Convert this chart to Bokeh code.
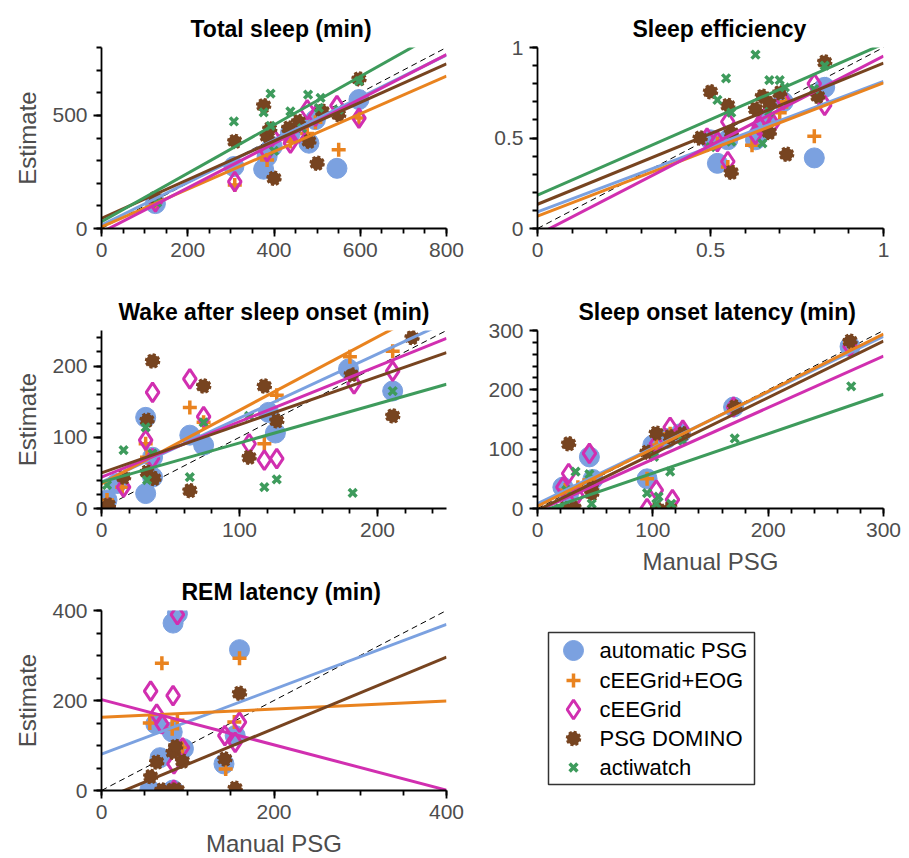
from bokeh.plotting import figure
from bokeh.layouts import row, column
from bokeh.models import Range1d, FixedTicker
from bokeh.embed import file_html
from bokeh.resources import INLINE
from bokeh.core.properties import value

FONT = "Liberation Sans"
SERIES = ["automatic PSG", "cEEGrid+EOG", "cEEGrid", "PSG DOMINO", "actiwatch"]
COLORS = ["#7ba1e0", "#e9831f", "#d12fb0", "#774420", "#3e9b5c"]

# ---------------- Total sleep (min) ----------------
TS_AUTO_X = [125, 307, 376, 384, 396, 438, 481, 496, 546, 597]
TS_AUTO_Y = [110, 274, 262, 318, 362, 422, 377, 481, 266, 570]
TS_EOG_X = [125, 309, 384, 438, 477, 496, 550, 597]
TS_EOG_Y = [118, 192, 303, 385, 420, 470, 348, 488]
TS_GRID_X = [125, 309, 384, 396, 438, 457, 477, 496, 546, 597]
TS_GRID_Y = [118, 207, 340, 407, 377, 421, 525, 496, 543, 488]
TS_DOM_X = [125, 309, 376, 384, 400, 390, 434, 457, 481, 500, 512, 550, 597]
TS_DOM_Y = [133, 385, 543, 407, 222, 440, 444, 473, 385, 288, 518, 503, 661]
TS_ACT_X = [129, 307, 376, 392, 392, 400, 438, 465, 479, 504, 508, 550, 597]
TS_ACT_Y = [114, 473, 513, 596, 454, 343, 518, 444, 592, 533, 577, 525, 651]
TS_FIT_B0 = [15, 7, -17, 45, 30]
TS_FIT_B1 = [0.94, 0.833, 0.982, 0.854, 1.07]

# ---------------- Sleep efficiency ----------------
SE_AUTO_X = [0.50, 0.52, 0.55, 0.63, 0.64, 0.66, 0.71, 0.80, 0.83]
SE_AUTO_Y = [0.49, 0.36, 0.49, 0.49, 0.52, 0.60, 0.70, 0.39, 0.78]
SE_EOG_X = [0.52, 0.55, 0.62, 0.67, 0.70, 0.72, 0.80]
SE_EOG_Y = [0.47, 0.34, 0.46, 0.58, 0.64, 0.70, 0.51]
SE_GRID_X = [0.49, 0.52, 0.55, 0.55, 0.63, 0.64, 0.66, 0.68, 0.71, 0.80, 0.83]
SE_GRID_Y = [0.50, 0.48, 0.37, 0.59, 0.52, 0.57, 0.62, 0.58, 0.71, 0.80, 0.68]
SE_DOM_X = [0.47, 0.50, 0.55, 0.56, 0.56, 0.63, 0.65, 0.67, 0.67, 0.70, 0.72, 0.81, 0.83]
SE_DOM_Y = [0.50, 0.755, 0.68, 0.53, 0.31, 0.66, 0.73, 0.53, 0.69, 0.75, 0.41, 0.73, 0.92]
SE_ACT_X = [0.50, 0.52, 0.545, 0.56, 0.56, 0.63, 0.65, 0.67, 0.67, 0.70, 0.715, 0.80, 0.83]
SE_ACT_Y = [0.45, 0.71, 0.83, 0.64, 0.48, 0.96, 0.47, 0.82, 0.645, 0.82, 0.78, 0.77, 0.90]
SE_FIT_B0 = [0.092, 0.068, -0.035, 0.134, 0.184]
SE_FIT_B1 = [0.72, 0.737, 0.988, 0.78, 0.836]

# ---------------- Wake after sleep onset (min) ----------------
WA_AUTO_X = [4, 11, 32, 32, 37, 37, 64, 74, 121, 126, 179, 211]
WA_AUTO_Y = [12, 35, 128, 21, 72, 44, 103, 89, 135, 106, 196, 165]
WA_EOG_X = [4, 15, 32, 33, 64, 74, 118, 127, 180, 211]
WA_EOG_Y = [12, 30, 91, 72, 142, 121, 91, 159, 213, 221]
WA_GRID_X = [5, 16, 32, 37, 37, 64, 74, 107, 118, 127, 183, 211]
WA_GRID_Y = [0, 30, 96, 163, 70, 182, 129, 91, 68, 70, 175, 193]
WA_DOM_X = [5, 16, 33, 33, 37, 38, 64, 74, 107, 118, 127, 181, 211, 225]
WA_DOM_Y = [5, 44, 124, 51, 207, 42, 25, 172, 72, 172, 123, 188, 130, 240]
WA_ACT_X = [4, 16, 32, 33, 37, 64, 74, 107, 118, 127, 182, 211]
WA_ACT_Y = [33, 82, 114, 40, 77, 44, 121, 130, 30, 41, 22, 165]
WA_FIT_B0 = [37, 35, 44, 50, 37]
WA_FIT_B1 = [0.9, 1.03, 0.78, 0.676, 0.55]

# ---------------- Sleep onset latency (min) ----------------
SO_AUTO_X = [22, 27, 45, 48, 95, 100, 112, 124, 170, 271]
SO_AUTO_Y = [36, 25, 87, 49, 50, 107, 118, 126, 171, 273]
SO_EOG_X = [24, 35, 45, 95, 103, 115, 170, 271]
SO_EOG_Y = [31, 36, 48, 50, 107, 126, 171, 279]
SO_GRID_X = [22, 27, 34, 45, 95, 103, 103, 115, 117, 126, 170, 271]
SO_GRID_Y = [36, 59, 22, 93, 0, 31, 109, 137, 15, 132, 171, 273]
SO_DOM_X = [24, 27, 32, 47, 47, 95, 103, 104, 115, 115, 126, 171, 271]
SO_DOM_Y = [0, 109, 0, 34, 25, 95, 127, 0, 121, 0, 126, 171, 282]
SO_ACT_X = [19, 25, 33, 45, 47, 95, 101, 103, 105, 115, 116, 126, 171, 272]
SO_ACT_Y = [0, 31, 62, 58, 8, 26, 87, 8, 20, 62, 8, 114, 118, 206]
SO_FIT_B0 = [8, 4, -4, -3, -7]
SO_FIT_B1 = [0.94, 0.967, 0.87, 0.95, 0.665]

# ---------------- REM latency (min) ----------------
RL_AUTO_X = [56, 63, 68, 82, 83, 83, 88, 95, 142, 155, 160]
RL_AUTO_Y = [1, 148, 73, 130, 372, 1, 393, 93, 59, 122, 313]
RL_EOG_X = [56, 70, 82, 88, 94, 144, 154, 160]
RL_EOG_Y = [150, 283, 137, 156, 96, 48, 152, 294]
RL_GRID_X = [57, 64, 70, 83, 84, 84, 88, 94, 143, 155, 160]
RL_GRID_Y = [221, 170, 148, 211, 59, 1, 391, 95, 122, 107, 152]
RL_DOM_X = [57, 64, 70, 82, 83, 86, 88, 94, 143, 155, 160]
RL_DOM_Y = [31, 63, 1, 1, 85, 98, 1, 65, 70, 5, 216]
RL_FIT_B0 = [81, 163, 202, -21]
RL_FIT_B1 = [0.72, 0.09, -0.503, 0.794]

TICK_COLOR = "#4d4d4d"


def draw_series(p, i, xs, ys):
    c = COLORS[i]
    if i == 0:
        p.scatter(xs, ys, marker="circle", size=20, fill_color=c, line_color=c)
    elif i == 1:
        p.scatter(xs, ys, marker="cross", size=14, line_color=c, line_width=3.5)
    elif i == 2:
        p.scatter(xs, ys, marker="diamond", size=19, fill_color=None, line_color=c, line_width=3)
    elif i == 3:
        p.scatter(xs, ys, marker="circle", size=13, fill_color=c, line_color=c,
                  line_width=2.5, line_dash="3 2")
    else:
        p.scatter(xs, ys, marker="x", size=11, line_color=c, line_width=3.5)


def make_panel(title, xmax, ymax, xmaj, xmin, ymaj, ymin, fw, fh, bl, br, bt, bb,
               toff, series, b0, b1, ylabel=None, xlabel=None, labels=None):
    p = figure(frame_width=fw, frame_height=fh, min_border_left=bl, min_border_right=br,
               min_border_top=bt, min_border_bottom=bb,
               x_range=Range1d(0, xmax), y_range=Range1d(0, ymax),
               output_backend="svg", toolbar_location=None, title=title)
    p.outline_line_color = None
    p.grid.visible = False
    p.title.text_font = FONT
    p.title.text_font_size = "23px"
    p.title.text_font_style = "bold"
    p.title.text_color = "black"
    p.title.align = "left"
    p.title.offset = toff
    p.title.standoff = 12
    p.xaxis.ticker = FixedTicker(ticks=xmaj, minor_ticks=xmin)
    p.yaxis.ticker = FixedTicker(ticks=ymaj, minor_ticks=ymin)
    for ax in (p.xaxis[0], p.yaxis[0]):
        ax.axis_line_color = "black"
        ax.axis_line_width = 1.8
        ax.major_tick_line_color = "black"
        ax.major_tick_line_width = 1.8
        ax.minor_tick_line_color = "black"
        ax.minor_tick_line_width = 1.8
        ax.major_tick_in = 0
        ax.major_tick_out = 8
        ax.minor_tick_in = 0
        ax.minor_tick_out = 5
        ax.major_label_text_font = FONT
        ax.major_label_text_font_size = "21px"
        ax.major_label_text_color = TICK_COLOR
        ax.major_label_standoff = 6
        ax.axis_label_text_font = FONT
        ax.axis_label_text_font_size = "24px"
        ax.axis_label_text_font_style = "normal"
        ax.axis_label_text_color = TICK_COLOR
        ax.axis_label_standoff = 8
    if labels:
        p.xaxis.major_label_overrides = labels
        p.yaxis.major_label_overrides = labels
    if ylabel:
        p.yaxis.axis_label = ylabel
    if xlabel:
        p.xaxis.axis_label = xlabel
    # identity line
    p.line([0, xmax], [0, xmax], line_color="black", line_width=1, line_dash="6 4")
    for i, (xs, ys) in enumerate(series):
        draw_series(p, i, xs, ys)
    for i in range(len(b0)):
        p.line([0, xmax], [b0[i], b0[i] + b1[i] * xmax], line_color=COLORS[i], line_width=3)
    return p


def rng(a, b, s):
    out = []
    v = a
    while v <= b + 1e-9:
        out.append(round(v, 6))
        v += s
    return out


f1 = make_panel("Total sleep (min)", 800, 800, [0, 200, 400, 600, 800], rng(0, 800, 50),
                [0, 500], rng(0, 800, 100), 345, 181, 101, 30, 47, 55, 89,
                [(TS_AUTO_X, TS_AUTO_Y), (TS_EOG_X, TS_EOG_Y), (TS_GRID_X, TS_GRID_Y),
                 (TS_DOM_X, TS_DOM_Y), (TS_ACT_X, TS_ACT_Y)], TS_FIT_B0, TS_FIT_B1,
                ylabel="Estimate")
f2 = make_panel("Sleep efficiency", 1, 1, [0, 0.5, 1], rng(0, 1, 0.1),
                [0, 0.5, 1], rng(0, 1, 0.1), 346, 181, 61, 26, 47, 55, 95,
                [(SE_AUTO_X, SE_AUTO_Y), (SE_EOG_X, SE_EOG_Y), (SE_GRID_X, SE_GRID_Y),
                 (SE_DOM_X, SE_DOM_Y), (SE_ACT_X, SE_ACT_Y)], SE_FIT_B0, SE_FIT_B1,
                labels={0: "0", 0.5: "0.5", 1: "1"})
f3 = make_panel("Wake after sleep onset (min)", 250, 250, [0, 100, 200], rng(0, 250, 20),
                [0, 100, 200], rng(0, 250, 20), 345, 178, 101, 30, 47, 55, 17,
                [(WA_AUTO_X, WA_AUTO_Y), (WA_EOG_X, WA_EOG_Y), (WA_GRID_X, WA_GRID_Y),
                 (WA_DOM_X, WA_DOM_Y), (WA_ACT_X, WA_ACT_Y)], WA_FIT_B0, WA_FIT_B1,
                ylabel="Estimate")
f4 = make_panel("Sleep onset latency (min)", 300, 300, [0, 100, 200, 300], rng(0, 300, 20),
                [0, 100, 200, 300], rng(0, 300, 20), 346, 178, 61, 26, 47, 82, 41,
                [(SO_AUTO_X, SO_AUTO_Y), (SO_EOG_X, SO_EOG_Y), (SO_GRID_X, SO_GRID_Y),
                 (SO_DOM_X, SO_DOM_Y), (SO_ACT_X, SO_ACT_Y)], SO_FIT_B0, SO_FIT_B1,
                xlabel="Manual PSG")
f5 = make_panel("REM latency (min)", 400, 400, [0, 200, 400], rng(0, 400, 50),
                [0, 200, 400], rng(0, 400, 50), 345, 180, 101, 30, 47, 68, 80,
                [(RL_AUTO_X, RL_AUTO_Y), (RL_EOG_X, RL_EOG_Y), (RL_GRID_X, RL_GRID_Y),
                 (RL_DOM_X, RL_DOM_Y)], RL_FIT_B0, RL_FIT_B1,
                ylabel="Estimate", xlabel="Manual PSG")

# ---------------- legend panel (frame aligned with the right-hand panels) ----------------
LFW, LFH = 346, 268
leg = figure(frame_width=LFW, frame_height=LFH, min_border_left=61, min_border_right=26,
             min_border_top=0, min_border_bottom=0, x_range=Range1d(0, LFW),
             y_range=Range1d(0, LFH), output_backend="svg", toolbar_location=None,
             x_axis_location=None, y_axis_location=None)
leg.outline_line_color = None
leg.grid.visible = False
leg.quad(left=[11], right=[217], bottom=[74], top=[226], fill_color=None,
         line_color="#333333", line_width=1.5)
row_y = [208, 178, 149, 120, 91]
for i, name in enumerate(SERIES):
    draw_series(leg, i, [36], [row_y[i]])
leg.text(x=[62] * 5, y=row_y, text=SERIES, text_font=value(FONT), text_font_size="22px",
         text_baseline="middle", text_align="left", text_color="black")

layout = row(column(f1, f3, f5), column(f2, f4, leg))
open("out.html", "w").write(file_html(layout, INLINE))
